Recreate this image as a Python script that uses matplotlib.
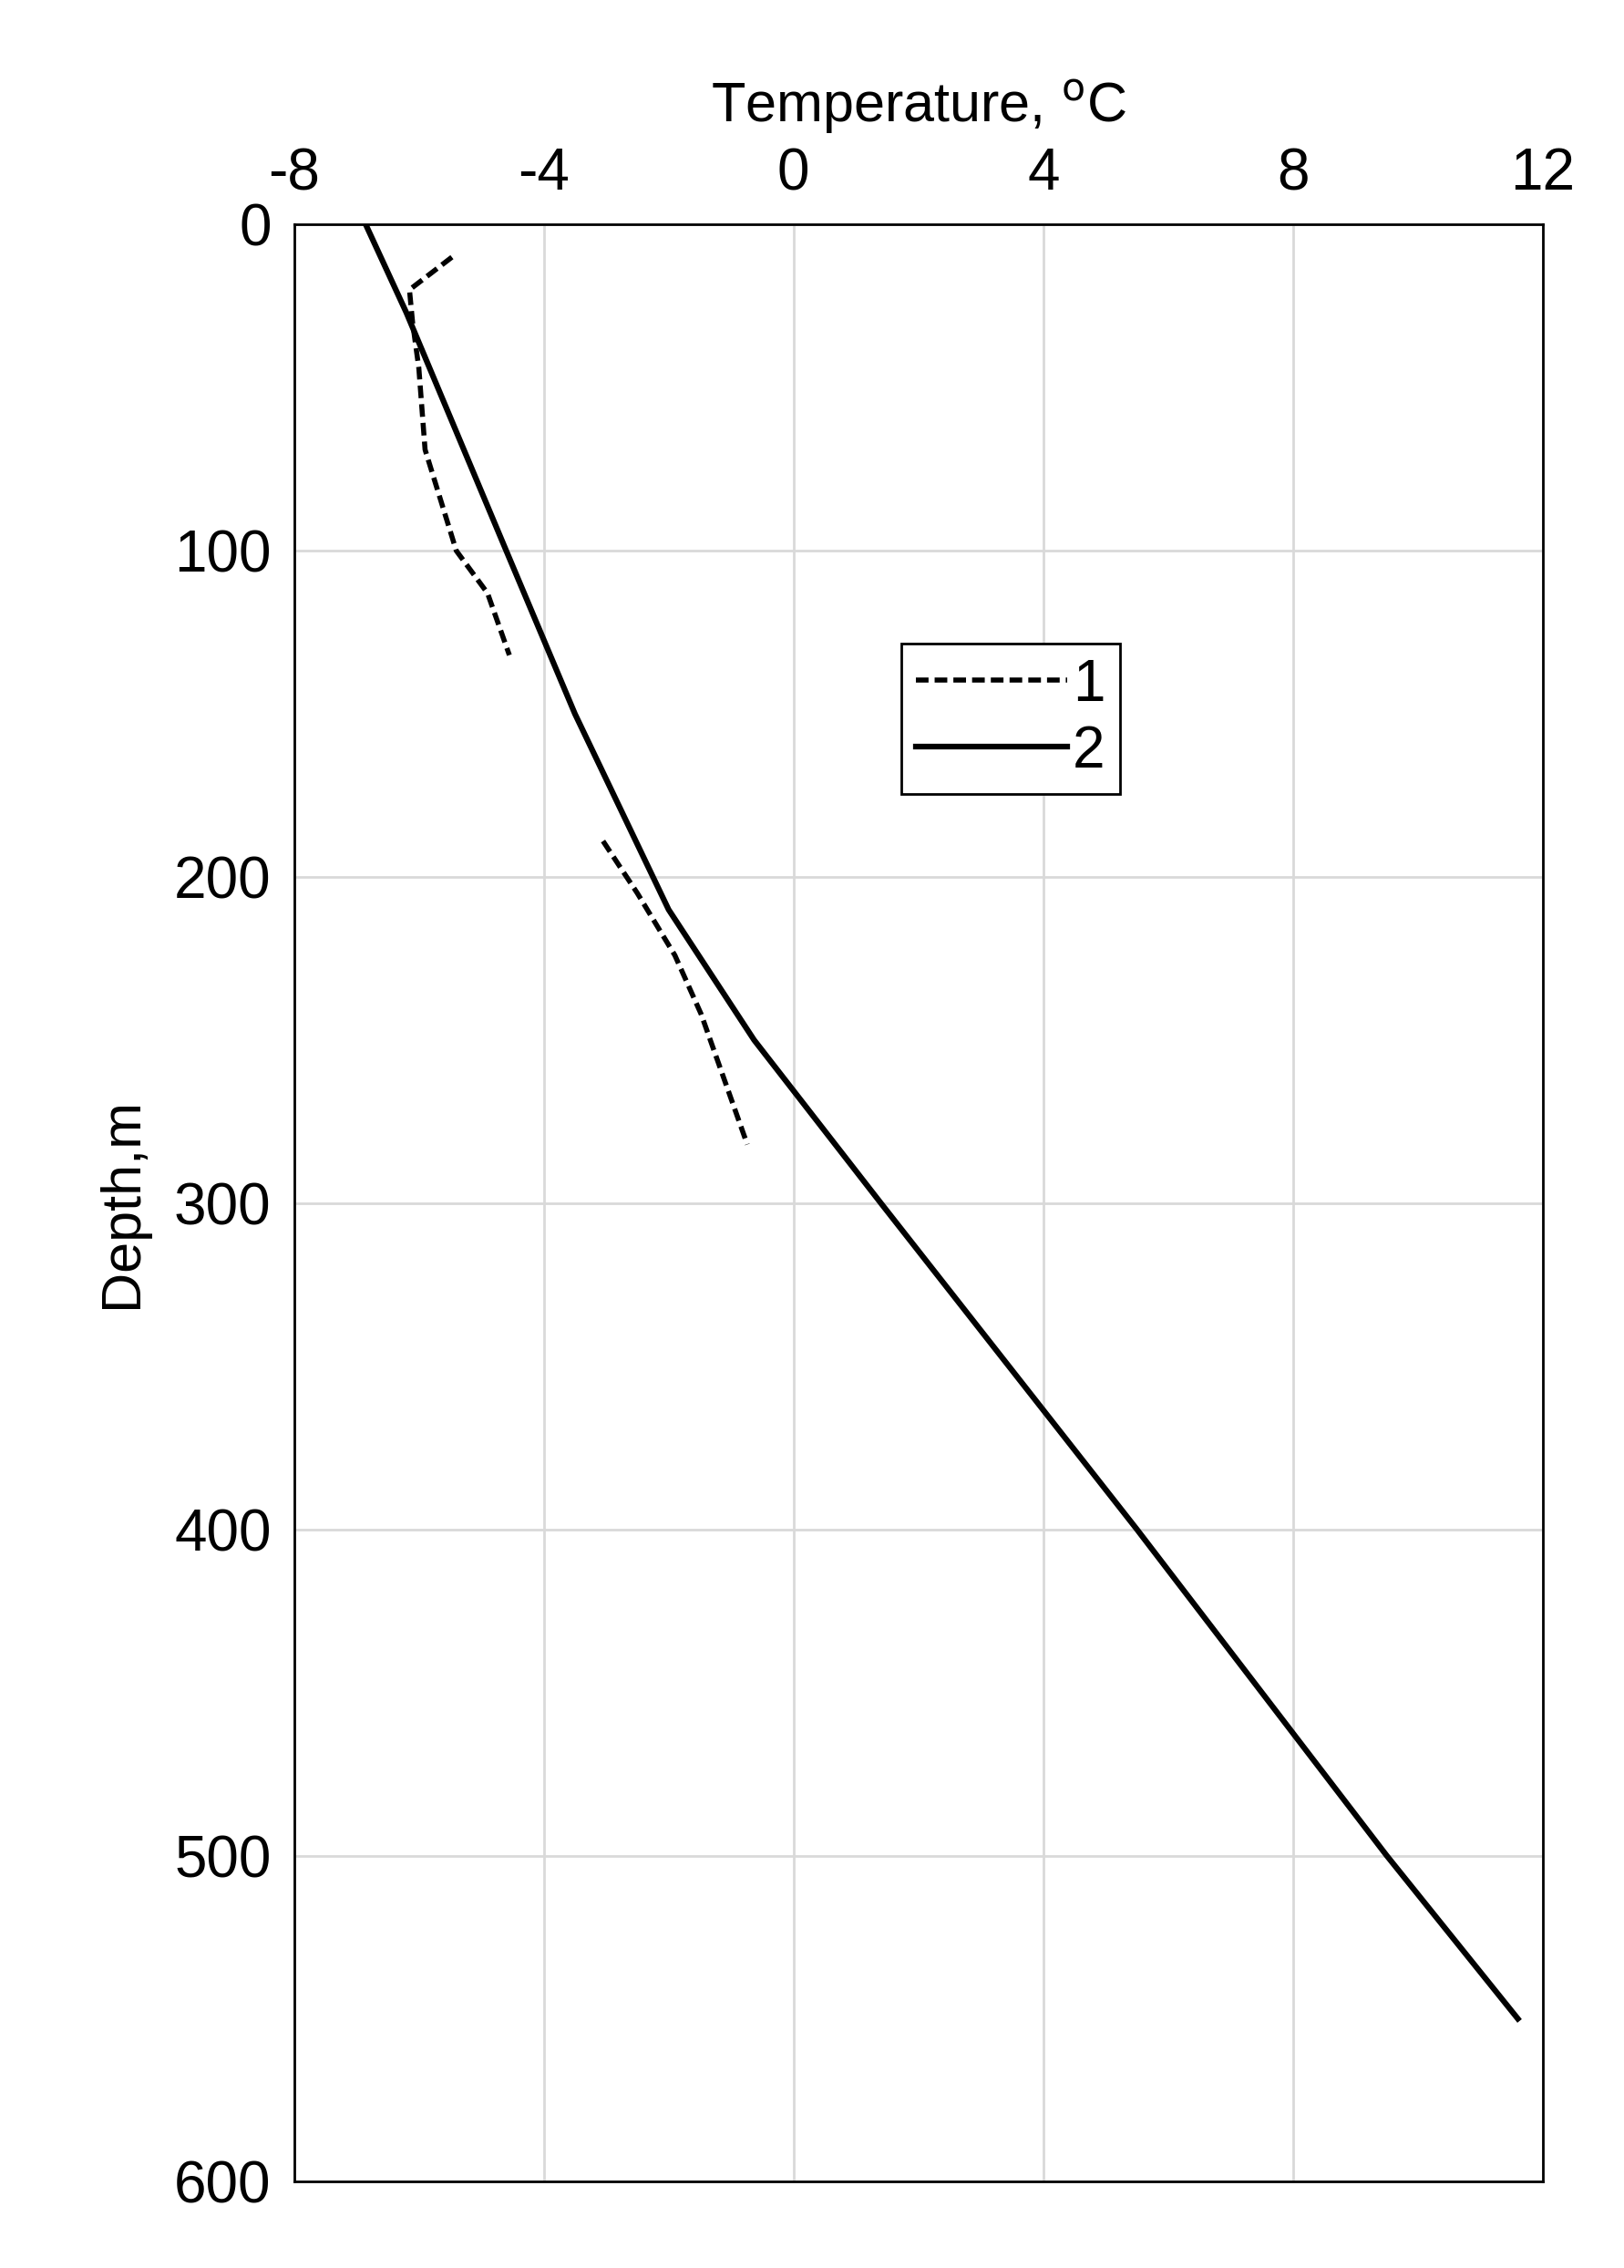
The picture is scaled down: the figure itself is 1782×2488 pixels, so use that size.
import matplotlib
matplotlib.use('Agg')
import matplotlib.pyplot as plt

# Curve 1 (dashed), two measured segments
t1a = [-5.47, -6.15, -6.1, -6.0, -5.9, -5.4, -4.9, -4.55]
d1a = [10, 20, 30, 44, 69, 100, 113, 132]
t1b = [-3.05, -2.5, -1.9, -1.48, -0.74]
d1b = [189, 205, 224, 242, 282]

# Curve 2 (solid)
t2 = [-6.85, -6.2, -4.6, -3.5, -2.0, -0.63, 1.4, 5.5, 9.5, 11.6]
d2 = [0, 27, 100, 150, 210, 250, 300, 400, 500, 550]

plt.rcParams['font.family'] = ['Liberation Sans', 'DejaVu Sans']
plt.rcParams['axes.unicode_minus'] = False

fig = plt.figure(figsize=(17.82, 24.88), dpi=100)
ax = fig.add_axes([0.181, 0.038, 0.769, 0.863])

ax.plot(t1a, d1a, color='black', lw=4, ls=(0, (2.5, 1.2)), label='1')
ax.plot(t1b, d1b, color='black', lw=4, ls=(0, (2.5, 1.2)))
ax.plot(t2, d2, color='black', lw=4.5, label='2')

ax.set_xlim(-8, 12)
ax.set_ylim(600, 0)
ax.set_xticks(range(-8, 13, 4))
ax.set_yticks(range(0, 601, 100))
ax.xaxis.tick_top()
ax.xaxis.set_label_position('top')
ax.tick_params(labelsize=46, length=0, pad=18)
ax.grid(True, color='#d9d9d9', lw=2)
for s in ax.spines.values():
    s.set_linewidth(2)
ax.set_xlabel('Temperature, $^{\\mathrm{o}}$C', fontsize=44, labelpad=20)
ax.set_ylabel('Depth,m', fontsize=44, labelpad=20)

leg = ax.legend(loc='upper left', bbox_to_anchor=(0.486, 0.786), fontsize=46,
                fancybox=False, edgecolor='black', framealpha=1,
                handlelength=2.6, handletextpad=0.1, borderpad=0.25,
                labelspacing=0.2, borderaxespad=0)
leg.get_frame().set_linewidth(2)

fig.savefig('out.png', dpi=100, facecolor='white')
